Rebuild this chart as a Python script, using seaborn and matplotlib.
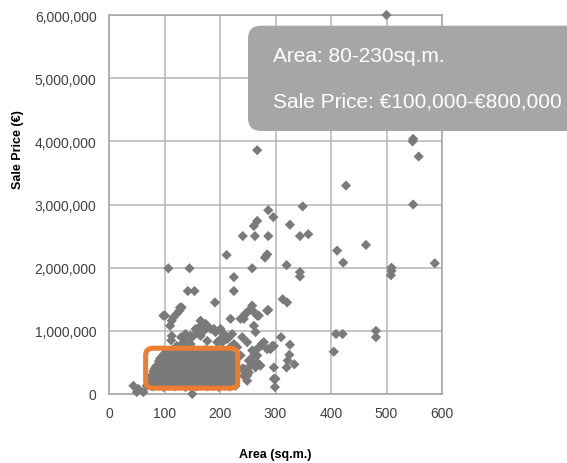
import matplotlib
matplotlib.use("Agg")
import matplotlib.pyplot as plt
from matplotlib.patches import FancyBboxPatch
import seaborn as sns
import pandas as pd

# ---- data (area in sq.m., sale price in EUR millions) ----
spread_area = [500, 267, 427, 548, 547, 558, 548, 349, 287, 296, 267, 261, 326,
               241, 263, 287, 344, 359, 463, 411, 422, 212, 281, 285, 258, 320,
               344, 344, 225, 509, 509, 508, 587, 107, 145, 142, 154, 225, 191,
               313, 321, 287, 258, 252, 246, 243, 270, 261, 264, 310, 326, 297,
               291, 275, 264, 261, 267, 255, 249, 325, 322, 334, 320, 297, 297,
               299, 409, 421, 405, 481, 481, 219, 285, 240, 101, 128, 122, 113,
               110, 98, 131, 127, 116, 237, 261, 255, 267, 246, 165, 177, 171,
               189, 201, 213, 219, 156, 147, 138, 131, 249, 237, 252, 243, 252,
               273, 294, 300, 44, 53, 62, 50, 150]
spread_price = [6.00, 3.86, 3.30, 4.04, 4.00, 3.76, 3.00, 2.97, 2.91, 2.80, 2.74,
                2.66, 2.68, 2.50, 2.50, 2.50, 2.50, 2.53, 2.36, 2.27, 2.08, 2.20,
                2.16, 2.21, 1.99, 2.04, 1.93, 1.86, 1.85, 2.00, 1.95, 1.88, 2.07,
                1.99, 1.99, 1.63, 1.63, 1.63, 1.45, 1.50, 1.45, 1.33, 1.40, 1.32,
                1.27, 1.19, 1.24, 1.08, 0.98, 0.90, 0.78, 0.76, 0.71, 0.79, 0.69,
                0.61, 0.50, 0.45, 0.29, 0.62, 0.53, 0.47, 0.42, 0.42, 0.24, 0.11,
                0.95, 0.95, 0.67, 1.00, 0.90, 1.19, 1.32, 0.90, 1.24, 1.37, 1.27,
                1.16, 1.08, 1.24, 1.37, 1.32, 1.21, 1.19, 1.30, 1.34, 1.24, 1.27,
                1.16, 1.08, 1.00, 1.03, 0.87, 0.87, 0.74, 1.03, 0.92, 0.87, 0.79,
                0.82, 0.61, 0.53, 0.40, 0.34, 0.45, 0.76, 0.24, 0.13, 0.08, 0.03,
                0.03, 0.00]

upper_area = [112, 130, 138, 150, 159, 165, 174, 183, 192, 201, 207, 216, 222,
              165, 177, 195, 204, 122, 135, 147, 225, 231, 258, 267, 258, 264,
              273, 279, 285, 243, 249, 240, 113]
upper_price = [0.85, 0.90, 0.95, 0.90, 0.98, 1.08, 1.11, 1.03, 0.98, 1.03, 0.95,
               0.90, 0.95, 0.92, 0.84, 0.82, 0.82, 0.76, 0.79, 0.79, 0.79, 0.74,
               0.69, 0.61, 0.50, 0.42, 0.76, 0.82, 0.71, 0.29, 0.21, 0.40, 0.92]

dense_area = [68, 78, 88, 98, 108, 118, 128, 138, 148, 158, 168, 178, 188, 198, 208, 218, 228,
              72, 82, 93, 103, 113, 123, 133, 143, 153, 163, 173, 183, 193, 203, 213, 223,
              75, 85, 95, 105, 115, 125, 135, 145, 155, 165, 175, 185, 195, 205, 215, 226,
              80, 90, 100, 110, 120, 130, 140, 150, 160, 170, 180, 190, 200, 210, 220, 229,
              85, 95, 105, 115, 125, 135, 145, 155, 165, 175, 185, 195, 205, 215, 225,
              90, 100, 110, 120, 130, 140, 150, 160, 170, 180, 190, 200, 210, 220, 228,
              96, 106, 116, 126, 136, 146, 156, 166, 176, 186, 196, 206, 216, 226,
              104, 114, 124, 134, 144, 154, 164, 174, 184, 194, 204, 214, 224,
              74, 84, 96, 108, 120, 132, 144, 156, 168, 180, 192, 204, 216, 227,
              82, 94, 106, 118, 130, 142, 154, 166, 178, 190, 202, 214, 225,
              92, 104, 116, 128, 140, 152, 164, 176, 188, 200, 212, 224,
              100, 112, 124, 136, 148, 160, 172, 184, 196, 208, 220]
dense_price = [0.13, 0.12, 0.14, 0.11, 0.13, 0.12, 0.14, 0.11, 0.13, 0.12, 0.14, 0.12, 0.13, 0.11, 0.14, 0.12, 0.13,
               0.20, 0.21, 0.19, 0.22, 0.20, 0.21, 0.19, 0.20, 0.22, 0.20, 0.19, 0.21, 0.20, 0.22, 0.19, 0.21,
               0.28, 0.29, 0.27, 0.28, 0.30, 0.28, 0.27, 0.29, 0.28, 0.30, 0.27, 0.28, 0.29, 0.28, 0.27, 0.29,
               0.36, 0.35, 0.37, 0.36, 0.35, 0.37, 0.36, 0.38, 0.35, 0.36, 0.37, 0.36, 0.35, 0.37, 0.36, 0.35,
               0.44, 0.45, 0.43, 0.44, 0.46, 0.44, 0.43, 0.45, 0.44, 0.43, 0.45, 0.44, 0.46, 0.43, 0.44,
               0.52, 0.53, 0.51, 0.52, 0.54, 0.52, 0.51, 0.53, 0.52, 0.54, 0.51, 0.52, 0.53, 0.52, 0.51,
               0.60, 0.61, 0.59, 0.60, 0.62, 0.60, 0.59, 0.61, 0.60, 0.62, 0.59, 0.60, 0.61, 0.60,
               0.68, 0.69, 0.67, 0.70, 0.68, 0.69, 0.67, 0.70, 0.68, 0.69, 0.67, 0.68, 0.69,
               0.24, 0.25, 0.23, 0.24, 0.25, 0.24, 0.23, 0.25, 0.24, 0.23, 0.25, 0.24, 0.23, 0.25,
               0.40, 0.41, 0.39, 0.40, 0.41, 0.40, 0.39, 0.41, 0.40, 0.39, 0.41, 0.40, 0.39,
               0.56, 0.57, 0.55, 0.56, 0.57, 0.56, 0.55, 0.57, 0.56, 0.55, 0.57, 0.56,
               0.64, 0.65, 0.63, 0.64, 0.65, 0.64, 0.63, 0.65, 0.64, 0.63, 0.65]

x_ticks = [0, 100, 200, 300, 400, 500, 600]
y_ticks = [0, 1, 2, 3, 4, 5, 6]
y_tick_labels = ["0", "1,000,000", "2,000,000", "3,000,000", "4,000,000", "5,000,000", "6,000,000"]
note_lines = ["Area: 80-230sq.m.", "Sale Price: \u20ac100,000-\u20ac800,000"]
highlight_area = [66, 232]
highlight_price = [0.092, 0.725]

df = pd.DataFrame({
    "area": spread_area + upper_area + dense_area,
    "price": spread_price + upper_price + dense_price,
})

# ---- style ----
sns.set_style("white")
plt.rcParams["font.family"] = ["Liberation Sans", "DejaVu Sans"]

W, H = 567, 464
fig = plt.figure(figsize=(W / 100, H / 100), dpi=100)
ax = fig.add_axes([109 / W, 1 - 395 / H, (442 - 109) / W, (395 - 16) / H])

sns.scatterplot(data=df, x="area", y="price", marker="D", s=27,
                color="#7a7a7a", edgecolor="none", linewidth=0, ax=ax,
                zorder=3, clip_on=False)

ax.set_xlim(0, 600)
ax.set_ylim(0, 6)
ax.set_xticks(x_ticks)
ax.set_yticks(y_ticks)
ax.set_yticklabels(y_tick_labels)
ax.grid(True, color="#b5b5b5", linewidth=1.1, zorder=0)
ax.set_axisbelow(True)
for sp in ax.spines.values():
    sp.set_color("#a8a8a8")
    sp.set_linewidth(1.2)
ax.tick_params(axis="both", length=0, labelsize=10, colors="#404040")
ax.tick_params(axis="y", pad=9)
ax.tick_params(axis="x", pad=9)
ax.set_xlabel("")
ax.set_ylabel("")

# highlight box around the dense cluster
px_per_x = (442 - 109) / 600.0
px_per_y = (395 - 16) / 6.0
aspect = (1 / px_per_y) / (1 / px_per_x)
hl = FancyBboxPatch((highlight_area[0], highlight_price[0]),
                    highlight_area[1] - highlight_area[0],
                    highlight_price[1] - highlight_price[0],
                    boxstyle="round,pad=0,rounding_size=13",
                    mutation_aspect=aspect,
                    facecolor="none", edgecolor="#ED7D31", linewidth=3.6,
                    zorder=5, clip_on=False)
ax.add_patch(hl)

# axis titles
fig.text(275.5 / W, 1 - 455 / H, "Area (sq.m.)", ha="center", va="center",
         fontsize=9, fontweight="bold", color="black")
fig.text(18 / W, 1 - 150 / H, "Sale Price (\u20ac)", ha="center", va="center",
         rotation=90, fontsize=9, fontweight="bold", color="black")

# annotation callout
box = FancyBboxPatch((248 / W, 1 - 132 / H), 400 / W, (132 - 26.7) / H,
                     boxstyle="round,pad=0,rounding_size=%f" % (13 / W),
                     mutation_aspect=(1 / H) / (1 / W),
                     transform=fig.transFigure, facecolor="#a6a6a6",
                     edgecolor="none", zorder=10)
fig.add_artist(box)
fig.text(273 / W, 1 - 61.7 / H, note_lines[0], ha="left", va="baseline",
         fontsize=15, color="white", zorder=11)
fig.text(273 / W, 1 - 108 / H, note_lines[1], ha="left", va="baseline",
         fontsize=15, color="white", zorder=11)

fig.savefig("out.png", dpi=100)
